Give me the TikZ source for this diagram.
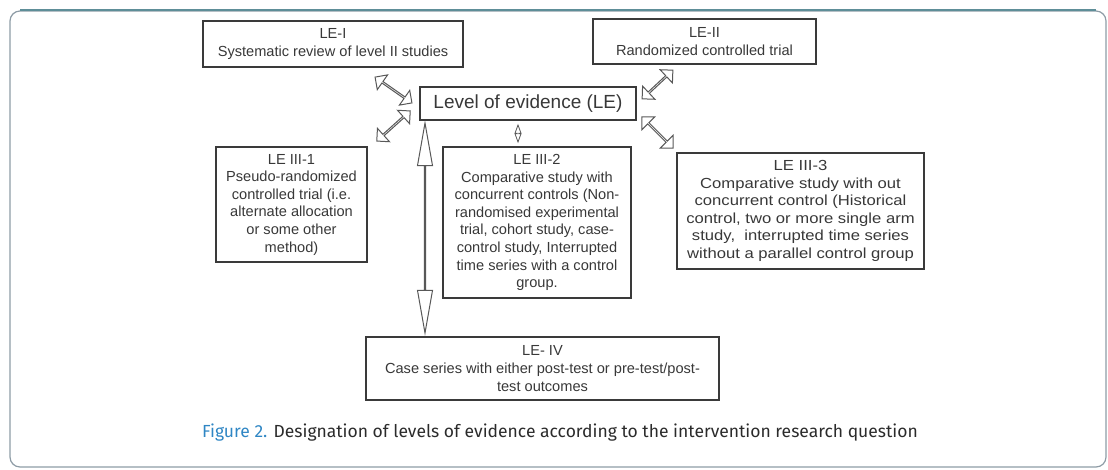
\documentclass[tikz,border=0pt]{standalone}
\usepackage{fontspec}
\setmainfont{Liberation Sans}
\newfontfamily\widefont{Liberation Sans}[FakeStretch=1.14]
\newfontfamily\capfont{Fira Sans}
\usetikzlibrary{shapes.arrows}
\definecolor{boxline}{HTML}{3A3A3A}
\definecolor{boxtext}{HTML}{383838}
\definecolor{framegray}{HTML}{8E9CA6}
\definecolor{frameteal}{HTML}{5E8E98}
\definecolor{capblue}{HTML}{2F86C4}
\definecolor{captext}{HTML}{2B2B2B}
\begin{document}
\begin{tikzpicture}[x=1pt,y=-1pt,
  box/.style={draw=boxline, line width=1.3pt, text=boxtext, align=center, inner sep=2pt,
    font=\fontsize{14.6}{17.6}\selectfont},
  hollowarrow/.style={double arrow, draw=boxline!85, fill=white, line width=1pt, inner sep=0pt,
    double arrow head extend=4.5pt, double arrow tip angle=90, minimum width=18pt}]
\useasboundingbox (0,0) rectangle (1108,469);
\draw[framegray, line width=1.2pt, rounded corners=10pt] (10,11) rectangle (1106,467);
\draw[frameteal, line width=2.5pt] (20,10) -- (1096,10);

\node[box, minimum width=260pt, minimum height=46pt] (le1) at (333,44)
  {LE-I\\Systematic review of level II studies};
\node[box, minimum width=223pt, minimum height=45pt] (le2) at (704.5,41.5)
  {LE-II\\Randomized controlled trial};
\node[box, minimum width=216pt, minimum height=33pt, font=\fontsize{19}{22}\selectfont] (le) at (528,103.5)
  {Level of evidence (LE)};
\node[box, minimum width=151pt, minimum height=115pt] (le31) at (291.5,204.5)
  {LE III-1\\Pseudo-randomized\\controlled trial (i.e.\\alternate allocation\\or some other\\method)};
\node[box, minimum width=188pt, minimum height=151pt] (le32) at (537,222.5)
  {LE III-2\\Comparative study with\\concurrent controls (Non-\\randomised experimental\\trial, cohort study, case-\\control study, Interrupted\\time series with a control\\group.};
\node[box, minimum width=247pt, minimum height=116pt, font=\widefont\fontsize{14.6}{17.6}\selectfont] (le33) at (800.5,211)
  {LE III-3\\Comparative study with out\\concurrent control (Historical\\control, two or more single arm\\study,\ \ interrupted time series\\without a parallel control group};
\node[box, minimum width=353pt, minimum height=63pt] (le4) at (542.5,368.5)
  {LE- IV\\Case series with either post-test or pre-test/post-\\test outcomes};

\node[hollowarrow, minimum height=45pt, rotate=-35] (a1) at (393.5,90) {};
\node[hollowarrow, minimum height=45pt, rotate=42] (a2) at (393.5,126) {};
\node[hollowarrow, minimum height=42pt, rotate=43] (a3) at (657.5,84.5) {};
\node[hollowarrow, minimum height=44pt, rotate=-45] (a4) at (657.5,132.5) {};
\node[hollowarrow, minimum height=17pt, minimum width=6pt, double arrow head extend=1.2pt,
  double arrow tip angle=40, line width=0.8pt, rotate=90] (a5) at (518,133.5) {};
\node[hollowarrow, minimum height=210pt, minimum width=15pt, double arrow head extend=5pt,
  double arrow tip angle=20, rotate=90] (a6) at (425,228) {};

\node[font=\capfont\fontsize{17.5}{20}\selectfont, text=captext, inner sep=0pt] (cap) at (560,433)
  {\textcolor{capblue}{Figure 2.} Designation of levels of evidence according to the intervention research question};
\end{tikzpicture}
\end{document}
